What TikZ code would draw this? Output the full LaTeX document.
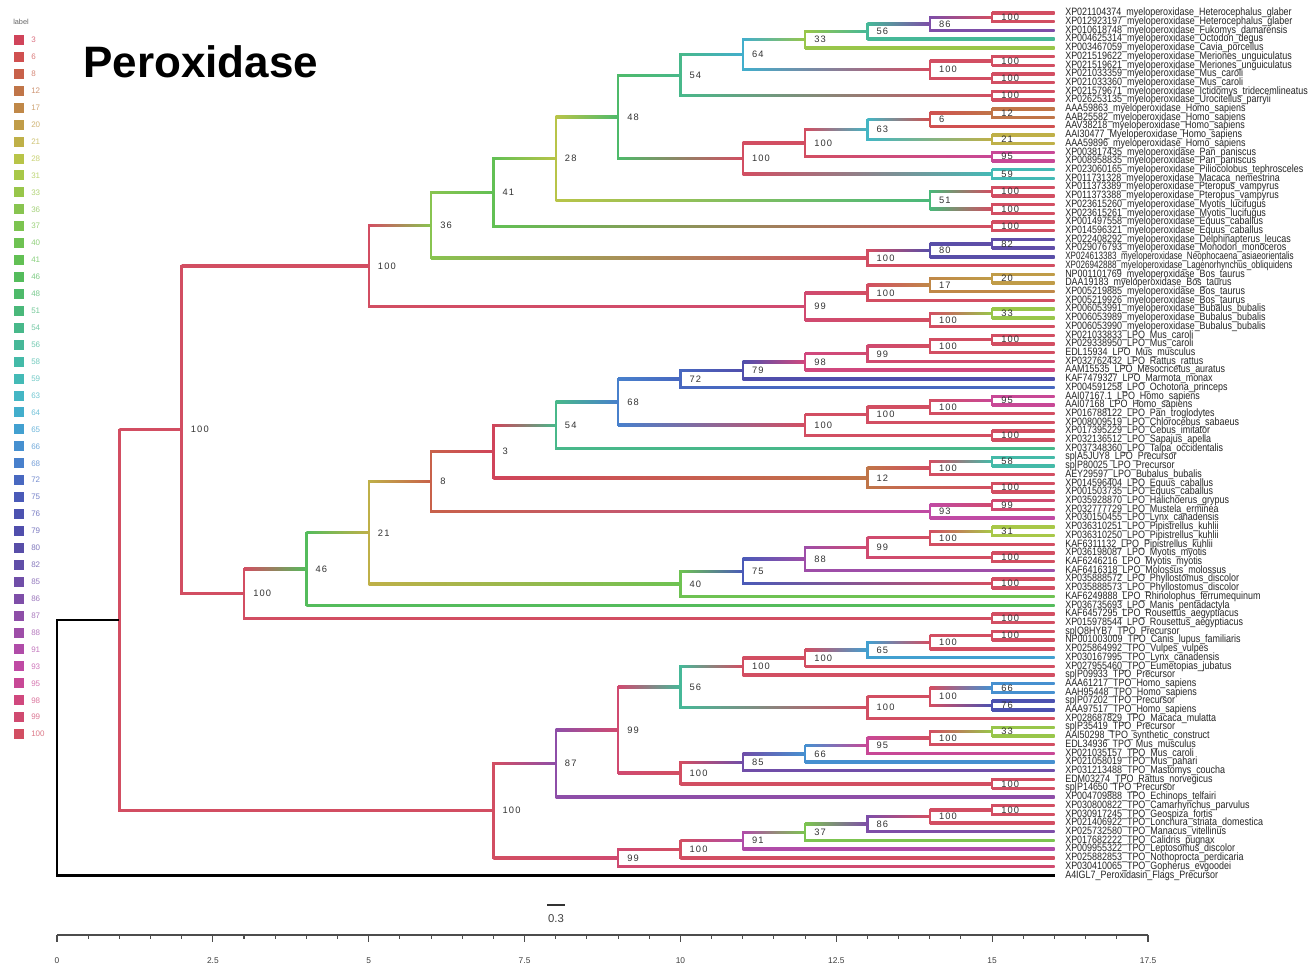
\documentclass[tikz,border=0pt]{standalone}
\usepackage{fontspec}
\setmainfont{Liberation Sans}
\newfontfamily\valfont[LetterSpace=12]{Liberation Sans}
\usetikzlibrary{calc}
\definecolor{k3}{HTML}{D0445A}
\definecolor{k6}{HTML}{D05050}
\definecolor{k8}{HTML}{C8614A}
\definecolor{k12}{HTML}{C07548}
\definecolor{k17}{HTML}{C08848}
\definecolor{k20}{HTML}{C09C48}
\definecolor{k21}{HTML}{BFB048}
\definecolor{k28}{HTML}{B8C448}
\definecolor{k31}{HTML}{A8C848}
\definecolor{k33}{HTML}{98C64A}
\definecolor{k36}{HTML}{88C450}
\definecolor{k37}{HTML}{7CC450}
\definecolor{k40}{HTML}{6EC252}
\definecolor{k41}{HTML}{62C054}
\definecolor{k46}{HTML}{54BC5C}
\definecolor{k48}{HTML}{4EBA6A}
\definecolor{k51}{HTML}{4AB87A}
\definecolor{k54}{HTML}{48B88A}
\definecolor{k56}{HTML}{46B898}
\definecolor{k58}{HTML}{44BAA8}
\definecolor{k59}{HTML}{44BAB6}
\definecolor{k63}{HTML}{44B6C4}
\definecolor{k64}{HTML}{42AECC}
\definecolor{k65}{HTML}{42A0D0}
\definecolor{k66}{HTML}{4690D0}
\definecolor{k68}{HTML}{4880CC}
\definecolor{k72}{HTML}{4868C0}
\definecolor{k75}{HTML}{4A5AB8}
\definecolor{k76}{HTML}{4C52B0}
\definecolor{k79}{HTML}{504EAC}
\definecolor{k80}{HTML}{584EA8}
\definecolor{k82}{HTML}{604EA8}
\definecolor{k85}{HTML}{704EA8}
\definecolor{k86}{HTML}{7E4EA8}
\definecolor{k87}{HTML}{8E4EA8}
\definecolor{k88}{HTML}{9E4EA8}
\definecolor{k91}{HTML}{B04CA8}
\definecolor{k93}{HTML}{C04AA4}
\definecolor{k95}{HTML}{C84896}
\definecolor{k98}{HTML}{D0487E}
\definecolor{k99}{HTML}{D04A70}
\definecolor{k100}{HTML}{D24E62}
\newcommand\hedge[4]{\shade[left color=#3,right color=#4] ($(#1|-#2)+(0,-1.2)$) rectangle ($(#2)+(0,1.2)$);}
\newcommand\tn[8]{%
  \coordinate (tmpm) at ($(#4)!0.5!(#6)$);
  \coordinate (#1) at (tmpm -| X#2);
  \hedge{#1}{#4}{#3}{#5}
  \hedge{#1}{#6}{#3}{#7}
  \draw[treeline,draw=#3] (#1|-#4) -- (#1|-#6);
  \node[val] (v#1) at ($(#1)+(9,0)$) {#8};
}
\begin{document}
\begin{tikzpicture}[x=0.75pt,y=-0.75pt,
  treeline/.style={line width=1.8pt,line cap=rect},
  val/.style={anchor=west,inner sep=0pt,font=\valfont\fontsize{7}{7}\selectfont,text=black!80},
  leaf/.style={anchor=west,inner sep=0pt,font=\fontsize{8}{8}\selectfont,text=black!85},
  legnum/.style={anchor=west,inner sep=0pt,font=\fontsize{6}{6}\selectfont},
  axlab/.style={inner sep=0pt,font=\fontsize{6.3}{6.3}\selectfont,text=black!75}]
\useasboundingbox (0,0) rectangle (1314,965);
\fill[white] (0,0) rectangle (1314,965);
% levels and leaves
\foreach \k in {0,...,16} \coordinate (X\k) at ({57+\k*62.34},0);
\foreach \i in {1,...,100} \coordinate (L\i) at (1054.5,{13+(\i-1)*8.71});
% MPO
\tn{ma}{15}{k100}{L1}{k100}{L2}{k100}{100}
\tn{mb}{14}{k86}{ma}{k100}{L3}{k86}{86}
\tn{mc}{13}{k56}{mb}{k86}{L4}{k56}{56}
\tn{md}{12}{k33}{mc}{k56}{L5}{k33}{33}
\tn{me}{15}{k100}{L6}{k100}{L7}{k100}{100}
\tn{mf}{15}{k100}{L8}{k100}{L9}{k100}{100}
\tn{mg}{14}{k100}{me}{k100}{mf}{k100}{100}
\tn{mh}{11}{k64}{md}{k33}{mg}{k100}{64}
\tn{mi}{15}{k100}{L10}{k100}{L11}{k100}{100}
\tn{mj}{10}{k54}{mh}{k64}{mi}{k100}{54}
\tn{mk}{15}{k12}{L12}{k12}{L13}{k12}{12}
\tn{ml}{14}{k6}{mk}{k12}{L14}{k6}{6}
\tn{mm}{15}{k21}{L15}{k21}{L16}{k21}{21}
\tn{mn}{13}{k63}{ml}{k6}{mm}{k21}{63}
\tn{mo}{15}{k95}{L17}{k95}{L18}{k95}{95}
\tn{mp}{12}{k100}{mn}{k63}{mo}{k95}{100}
\tn{mq}{15}{k59}{L19}{k59}{L20}{k59}{59}
\tn{mr}{11}{k100}{mp}{k100}{mq}{k59}{100}
\tn{ms}{9}{k48}{mj}{k54}{mr}{k100}{48}
\tn{mt}{15}{k100}{L21}{k100}{L22}{k100}{100}
\tn{mu}{15}{k100}{L23}{k100}{L24}{k100}{100}
\tn{mv}{14}{k51}{mt}{k100}{mu}{k100}{51}
\tn{mw}{8}{k28}{ms}{k48}{mv}{k51}{28}
\tn{mx}{15}{k100}{L25}{k100}{L26}{k100}{100}
\tn{my}{7}{k41}{mw}{k28}{mx}{k100}{41}
\tn{mz}{15}{k82}{L27}{k82}{L28}{k82}{82}
\tn{na}{14}{k80}{mz}{k82}{L29}{k80}{80}
\tn{nb}{13}{k100}{na}{k80}{L30}{k100}{100}
\tn{nc}{6}{k36}{my}{k41}{nb}{k100}{36}
\tn{nd}{15}{k20}{L31}{k20}{L32}{k20}{20}
\tn{nf}{14}{k17}{nd}{k20}{L33}{k17}{17}
\tn{ng}{13}{k100}{nf}{k17}{L34}{k100}{100}
\tn{nh}{15}{k33}{L35}{k33}{L36}{k33}{33}
\tn{ni}{14}{k100}{nh}{k33}{L37}{k100}{100}
\tn{nj}{12}{k99}{ng}{k100}{ni}{k100}{99}
\tn{nk}{5}{k100}{nc}{k36}{nj}{k99}{100}
% LPO
\tn{pa}{15}{k100}{L38}{k100}{L39}{k100}{100}
\tn{pb}{14}{k100}{pa}{k100}{L40}{k100}{100}
\tn{pc}{13}{k99}{pb}{k100}{L41}{k99}{99}
\tn{pd}{12}{k98}{pc}{k99}{L42}{k98}{98}
\tn{pe}{11}{k79}{pd}{k98}{L43}{k79}{79}
\tn{pf}{10}{k72}{pe}{k79}{L44}{k72}{72}
\tn{pg}{15}{k95}{L45}{k95}{L46}{k95}{95}
\tn{ph}{14}{k100}{pg}{k95}{L47}{k100}{100}
\tn{pi}{13}{k100}{ph}{k100}{L48}{k100}{100}
\tn{pj}{15}{k100}{L49}{k100}{L50}{k100}{100}
\tn{pk}{12}{k100}{pi}{k100}{pj}{k100}{100}
\tn{pl}{9}{k68}{pf}{k72}{pk}{k100}{68}
\tn{pm}{8}{k54}{pl}{k68}{L51}{k54}{54}
\tn{pn}{15}{k58}{L52}{k58}{L53}{k58}{58}
\tn{po}{14}{k100}{pn}{k58}{L54}{k100}{100}
\tn{pp}{15}{k100}{L55}{k100}{L56}{k100}{100}
\tn{pq}{13}{k12}{po}{k100}{pp}{k100}{12}
\tn{pr}{7}{k3}{pm}{k54}{pq}{k12}{3}
\tn{ps}{15}{k99}{L57}{k99}{L58}{k99}{99}
\tn{pt}{14}{k93}{ps}{k99}{L59}{k93}{93}
\tn{pu}{6}{k8}{pr}{k3}{pt}{k93}{8}
\tn{pv}{15}{k31}{L60}{k31}{L61}{k31}{31}
\tn{pw}{14}{k100}{pv}{k31}{L62}{k100}{100}
\tn{px}{15}{k100}{L63}{k100}{L64}{k100}{100}
\tn{py}{13}{k99}{pw}{k100}{px}{k100}{99}
\tn{pz}{12}{k88}{py}{k99}{L65}{k88}{88}
\tn{qa}{15}{k100}{L66}{k100}{L67}{k100}{100}
\tn{qb}{11}{k75}{pz}{k88}{qa}{k100}{75}
\tn{qc}{10}{k40}{qb}{k75}{L68}{k40}{40}
\tn{qd}{5}{k21}{pu}{k8}{qc}{k40}{21}
\tn{qe}{4}{k46}{qd}{k21}{L69}{k46}{46}
\tn{qf}{15}{k100}{L70}{k100}{L71}{k100}{100}
\tn{qg}{3}{k100}{qe}{k46}{qf}{k100}{100}
\tn{nB}{2}{k100}{nk}{k100}{qg}{k100}{100}
% TPO
\tn{sa}{15}{k100}{L72}{k100}{L73}{k100}{100}
\tn{sb}{14}{k100}{sa}{k100}{L74}{k100}{100}
\tn{sc}{13}{k65}{sb}{k100}{L75}{k65}{65}
\tn{sd}{12}{k100}{sc}{k65}{L76}{k100}{100}
\tn{se}{11}{k100}{sd}{k100}{L77}{k100}{100}
\tn{sf}{15}{k66}{L78}{k66}{L79}{k66}{66}
\tn{sg}{15}{k76}{L80}{k76}{L81}{k76}{76}
\tn{sh}{14}{k100}{sf}{k66}{sg}{k76}{100}
\tn{si}{13}{k100}{sh}{k100}{L82}{k100}{100}
\tn{sj}{10}{k56}{se}{k100}{si}{k100}{56}
\tn{sk}{15}{k33}{L83}{k33}{L84}{k33}{33}
\tn{sl}{14}{k100}{sk}{k33}{L85}{k100}{100}
\tn{sm}{13}{k95}{sl}{k100}{L86}{k95}{95}
\tn{sn}{12}{k66}{sm}{k95}{L87}{k66}{66}
\tn{sp}{11}{k85}{sn}{k66}{L88}{k85}{85}
\tn{sq}{15}{k100}{L89}{k100}{L90}{k100}{100}
\tn{sr}{10}{k100}{sp}{k85}{sq}{k100}{100}
\tn{ss}{9}{k99}{sj}{k56}{sr}{k100}{99}
\tn{st}{8}{k87}{ss}{k99}{L91}{k87}{87}
\tn{su}{15}{k100}{L92}{k100}{L93}{k100}{100}
\tn{sv}{14}{k100}{su}{k100}{L94}{k100}{100}
\tn{sw}{13}{k86}{sv}{k100}{L95}{k86}{86}
\tn{sx}{12}{k37}{sw}{k86}{L96}{k37}{37}
\tn{sy}{11}{k91}{sx}{k37}{L97}{k91}{91}
\tn{sz}{10}{k100}{sy}{k91}{L98}{k100}{100}
\tn{ua}{9}{k99}{sz}{k100}{L99}{k99}{99}
\tn{ub}{7}{k100}{st}{k87}{ua}{k99}{100}
% node A
\coordinate (tmpm) at ($(nB)!0.5!(ub)$);
\coordinate (nA) at (tmpm -| X1);
\hedge{nA}{nB}{k100}{k100}
\hedge{nA}{ub}{k100}{k100}
\draw[treeline,draw=k100] (nA|-nB) -- (nA|-ub);
% root
\coordinate (tmpm) at ($(nA)!0.5!(L100)$);
\coordinate (nR) at (tmpm -| X0);
\draw[treeline,black,line width=2.6pt,line cap=butt] (nR|-L100) -- (L100);
\draw[treeline,black,line cap=butt] (nR|-nA) -- (nA);
\draw[treeline,black] (nR|-nA) -- (nR|-L100);
% leaf labels
\foreach \t [count=\i] in {
{XP021104374\_myeloperoxidase\_Heterocephalus\_glaber},
{XP012923197\_myeloperoxidase\_Heterocephalus\_glaber},
{XP010618748\_myeloperoxidase\_Fukomys\_damarensis},
{XP004625314\_myeloperoxidase\_Octodon\_degus},
{XP003467059\_myeloperoxidase\_Cavia\_porcellus},
{XP021519622\_myeloperoxidase\_Meriones\_unguiculatus},
{XP021519621\_myeloperoxidase\_Meriones\_unguiculatus},
{XP021033359\_myeloperoxidase\_Mus\_caroli},
{XP021033360\_myeloperoxidase\_Mus\_caroli},
{XP021579671\_myeloperoxidase\_Ictidomys\_tridecemlineatus},
{XP026253135\_myeloperoxidase\_Urocitellus\_parryii},
{AAA59863\_myeloperoxidase\_Homo\_sapiens},
{AAB25582\_myeloperoxidase\_Homo\_sapiens},
{AAV38218\_myeloperoxidase\_Homo\_sapiens},
{AAI30477\_Myeloperoxidase\_Homo\_sapiens},
{AAA59896\_myeloperoxidase\_Homo\_sapiens},
{XP003817435\_myeloperoxidase\_Pan\_paniscus},
{XP008958835\_myeloperoxidase\_Pan\_paniscus},
{XP023060165\_myeloperoxidase\_Piliocolobus\_tephrosceles},
{XP011731328\_myeloperoxidase\_Macaca\_nemestrina},
{XP011373389\_myeloperoxidase\_Pteropus\_vampyrus},
{XP011373388\_myeloperoxidase\_Pteropus\_vampyrus},
{XP023615260\_myeloperoxidase\_Myotis\_lucifugus},
{XP023615261\_myeloperoxidase\_Myotis\_lucifugus},
{XP001497558\_myeloperoxidase\_Equus\_caballus},
{XP014596321\_myeloperoxidase\_Equus\_caballus},
{XP022408292\_myeloperoxidase\_Delphinapterus\_leucas},
{XP029076793\_myeloperoxidase\_Monodon\_monoceros},
{XP024613383\_myeloperoxidase\_Neophocaena\_asiaeorientalis},
{XP026942888\_myeloperoxidase\_Lagenorhynchus\_obliquidens},
{NP001101769\_myeloperoxidase\_Bos\_taurus},
{DAA19183\_myeloperoxidase\_Bos\_taurus},
{XP005219885\_myeloperoxidase\_Bos\_taurus},
{XP005219926\_myeloperoxidase\_Bos\_taurus},
{XP006053991\_myeloperoxidase\_Bubalus\_bubalis},
{XP006053989\_myeloperoxidase\_Bubalus\_bubalis},
{XP006053990\_myeloperoxidase\_Bubalus\_bubalis},
{XP021033833\_LPO\_Mus\_caroli},
{XP029338950\_LPO\_Mus\_caroli},
{EDL15934\_LPO\_Mus\_musculus},
{XP032762432\_LPO\_Rattus\_rattus},
{AAM15535\_LPO\_Mesocricetus\_auratus},
{KAF7479327\_LPO\_Marmota\_monax},
{XP004591258\_LPO\_Ochotona\_princeps},
{AAI07167.1\_LPO\_Homo\_sapiens},
{AAI07168\_LPO\_Homo\_sapiens},
{XP016788122\_LPO\_Pan\_troglodytes},
{XP008009519\_LPO\_Chlorocebus\_sabaeus},
{XP017395229\_LPO\_Cebus\_imitator},
{XP032136512\_LPO\_Sapajus\_apella},
{XP037348360\_LPO\_Talpa\_occidentalis},
{sp|A5JUY8\_LPO\_Precursor},
{sp|P80025\_LPO\_Precursor},
{AEY29597\_LPO\_Bubalus\_bubalis},
{XP014596404\_LPO\_Equus\_caballus},
{XP001503735\_LPO\_Equus\_caballus},
{XP035928870\_LPO\_Halichoerus\_grypus},
{XP032777729\_LPO\_Mustela\_erminea},
{XP030150455\_LPO\_Lynx\_canadensis},
{XP036310251\_LPO\_Pipistrellus\_kuhlii},
{XP036310250\_LPO\_Pipistrellus\_kuhlii},
{KAF6311132\_LPO\_Pipistrellus\_kuhlii},
{XP036198087\_LPO\_Myotis\_myotis},
{KAF6246216\_LPO\_Myotis\_myotis},
{KAF6416318\_LPO\_Molossus\_molossus},
{XP035888572\_LPO\_Phyllostomus\_discolor},
{XP035888573\_LPO\_Phyllostomus\_discolor},
{KAF6249888\_LPO\_Rhinolophus\_ferrumequinum},
{XP036735693\_LPO\_Manis\_pentadactyla},
{KAF6457295\_LPO\_Rousettus\_aegyptiacus},
{XP015978544\_LPO\_Rousettus\_aegyptiacus},
{sp|Q8HYB7\_TPO\_Precursor},
{NP001003009\_TPO\_Canis\_lupus\_familiaris},
{XP025864992\_TPO\_Vulpes\_vulpes},
{XP030167995\_TPO\_Lynx\_canadensis},
{XP027955460\_TPO\_Eumetopias\_jubatus},
{sp|P09933\_TPO\_Precursor},
{AAA61217\_TPO\_Homo\_sapiens},
{AAH95448\_TPO\_Homo\_sapiens},
{sp|P07202\_TPO\_Precursor},
{AAA97517\_TPO\_Homo\_sapiens},
{XP028687829\_TPO\_Macaca\_mulatta},
{sp|P35419\_TPO\_Precursor},
{AAI50298\_TPO\_synthetic\_construct},
{EDL34936\_TPO\_Mus\_musculus},
{XP021035157\_TPO\_Mus\_caroli},
{XP021058019\_TPO\_Mus\_pahari},
{XP031213488\_TPO\_Mastomys\_coucha},
{EDM03274\_TPO\_Rattus\_norvegicus},
{sp|P14650\_TPO\_Precursor},
{XP004709888\_TPO\_Echinops\_telfairi},
{XP030800822\_TPO\_Camarhynchus\_parvulus},
{XP030917245\_TPO\_Geospiza\_fortis},
{XP021406922\_TPO\_Lonchura\_striata\_domestica},
{XP025732580\_TPO\_Manacus\_vitellinus},
{XP017682222\_TPO\_Calidris\_pugnax},
{XP009955322\_TPO\_Leptosomus\_discolor},
{XP025882853\_TPO\_Nothoprocta\_perdicaria},
{XP030410065\_TPO\_Gopherus\_evgoodei},
{A4IGL7\_Peroxidasin\_Flags\_Precursor}} {
  \pgfmathsetmacro\lsc{(\i==29 || \i==30) ? 0.76 : 0.84}
  \node[leaf] (lt\i) at ($(L\i)+(10.5,0)$) {\scalebox{\lsc}[1]{\t}};
}
% title
\node[anchor=west,inner sep=0pt,font=\fontsize{33}{33}\selectfont\bfseries] (title) at (83,62) {Peroxidase};
% legend
\node[anchor=west,inner sep=0pt,font=\fontsize{5.5}{6}\selectfont,text=black!60] (legtitle) at (13,22) {label};
\foreach \v [count=\i from 0] in {3,6,8,12,17,20,21,28,31,33,36,37,40,41,46,48,51,54,56,58,59,63,64,65,66,68,72,75,76,79,80,82,85,86,87,88,91,93,95,98,99,100} {
  \fill[k\v] (14,{35+\i*16.93}) rectangle +(10,10);
  \node[legnum,text=k\v!75] (lg\v) at (31,{40+\i*16.93}) {\v};
}
% axis
\draw[black!70,line width=0.9pt] (57,935) -- (1148,935);
\foreach \k in {0,...,35} \draw[black!70,line width=0.8pt] ({57+\k*31.17},935) -- ++(0,4);
\foreach \k in {0,...,7} \draw[black!70,line width=0.9pt] ({57+\k*155.86},935) -- ++(0,7);
\foreach \v [count=\i from 0] in {0,2.5,5,7.5,10,12.5,15,17.5}
  \node[axlab] (ax\i) at ({57+\i*155.86},961) {\v};
% scale bar
\draw[black!80,line width=1pt] (547,905) -- (565,905);
\node[inner sep=0pt,font=\fontsize{8.5}{9}\selectfont,text=black!75] (sbar) at (556,919) {0.3};
\end{tikzpicture}
\end{document}
